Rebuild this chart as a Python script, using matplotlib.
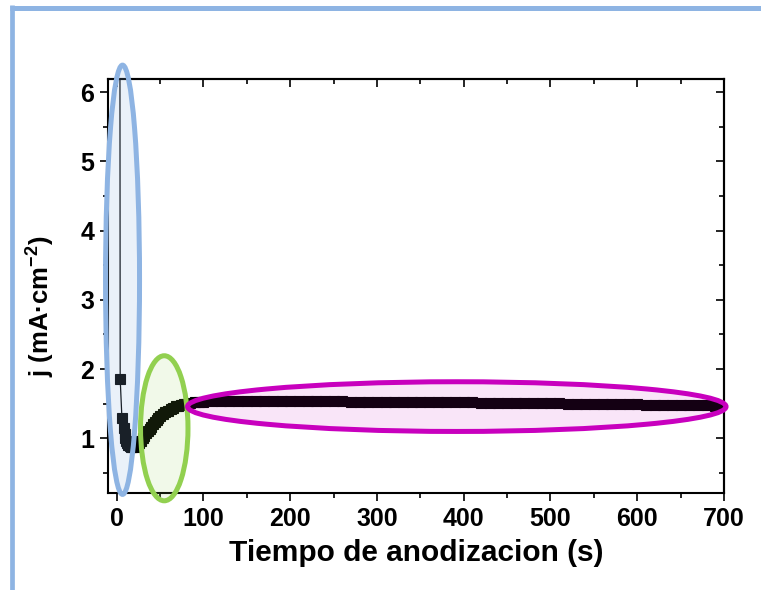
import matplotlib
matplotlib.use("Agg")
import matplotlib.pyplot as plt
from matplotlib.patches import Ellipse
from matplotlib.lines import Line2D
from matplotlib.ticker import MultipleLocator

plt.rcParams['font.family'] = ['Liberation Sans', 'DejaVu Sans']
plt.rcParams['font.weight'] = 'bold'
plt.rcParams['mathtext.fontset'] = 'custom'
plt.rcParams['mathtext.rm'] = 'Liberation Sans:bold'
plt.rcParams['mathtext.bf'] = 'Liberation Sans:bold'
plt.rcParams['mathtext.default'] = 'bf'

# ---- data ----
t_early = [3.5, 4, 6, 8, 9, 10, 11, 12, 13, 14, 15, 16, 18, 20, 22, 24, 26, 28,
           30, 32, 34, 36, 38, 40, 42, 44, 46, 48, 50, 53, 56, 59, 62, 65, 68,
           71, 74, 77, 80, 85, 90, 95]
j_early = [10.0, 1.86, 1.29, 1.15, 1.06, 1.00, 0.96, 0.93, 0.91, 0.90, 0.89, 0.88,
           0.88, 0.88, 0.89, 0.91, 0.93, 0.96, 1.00, 1.04, 1.08, 1.11, 1.14, 1.17,
           1.20, 1.23, 1.26, 1.29, 1.32, 1.35, 1.38, 1.40, 1.42, 1.44, 1.46, 1.47,
           1.48, 1.49, 1.50, 1.51, 1.52, 1.52]
t_late = [100, 110, 120, 130, 140, 150, 160, 170, 180, 190, 200, 210, 220, 230,
          240, 250, 260, 270, 280, 290, 300, 310, 320, 330, 340, 350, 360, 370,
          380, 390, 400, 410, 420, 430, 440, 450, 460, 470, 480, 490, 500, 510,
          520, 530, 540, 550, 560, 570, 580, 590, 600, 610, 620, 630, 640, 650,
          660, 670, 680, 690, 700]
j_late = [1.53, 1.535, 1.54, 1.54, 1.54, 1.54, 1.54, 1.54, 1.54, 1.54, 1.54, 1.54,
          1.54, 1.538, 1.536, 1.534, 1.532, 1.531, 1.53, 1.53, 1.53, 1.529, 1.528, 1.527,
          1.526, 1.525, 1.523, 1.521, 1.52, 1.52, 1.519, 1.518, 1.516, 1.514, 1.512, 1.51,
          1.509, 1.508, 1.507, 1.506, 1.505, 1.503, 1.501, 1.50, 1.499, 1.497, 1.495, 1.493,
          1.491, 1.49, 1.489, 1.487, 1.485, 1.483, 1.481, 1.48, 1.478, 1.476, 1.474, 1.472,
          1.47]
time_s = t_early + t_late
current = j_early + j_late

x_ticks = [0, 100, 200, 300, 400, 500, 600, 700]
y_ticks = [1, 2, 3, 4, 5, 6]

# highlight ellipses: (center_x, center_y, width, height, edge colour)
ell_cx = [6.7, 54.8, 392.0]
ell_cy = [3.29, 1.145, 1.458]
ell_w = [39.2, 54.7, 620.7]
ell_h = [6.2, 2.095, 0.718]
ell_colors = ['#8EB4E3', '#92D050', '#C800BE']
ell_alpha = [0.18, 0.12, 0.10]

fig = plt.figure(figsize=(7.61, 5.90), dpi=100)
ax = fig.add_axes([108.3 / 761, 1 - 493 / 590, (724 - 108.3) / 761, (493 - 79) / 590])

ax.plot(time_s, current, color='black', lw=0.9, marker='s', markersize=7,
        markerfacecolor='black', markeredgecolor='black', markeredgewidth=0.8, zorder=3)

for cx, cy, w, h, c, a in zip(ell_cx, ell_cy, ell_w, ell_h, ell_colors, ell_alpha):
    e_fill = Ellipse((cx, cy), w, h, facecolor=c, alpha=a, edgecolor='none',
                     clip_on=False, zorder=5)
    e_edge = Ellipse((cx, cy), w, h, facecolor='none', edgecolor=c, lw=3.6,
                     clip_on=False, zorder=6)
    ax.add_patch(e_fill)
    ax.add_patch(e_edge)

ax.set_xlim(-9.7, 700)
ax.set_ylim(0.21, 6.19)
ax.set_xticks(x_ticks)
ax.set_yticks(y_ticks)
ax.xaxis.set_minor_locator(MultipleLocator(50))
ax.yaxis.set_minor_locator(MultipleLocator(0.5))
ax.tick_params(which='major', direction='out', length=6, width=1.2, labelsize=18, pad=4)
ax.tick_params(which='minor', direction='out', length=3.5, width=1.2)
ax.tick_params(top=False, right=False)
for s in ax.spines.values():
    s.set_linewidth(1.5)

secx = ax.secondary_xaxis('top')
secx.set_xticks(x_ticks)
secx.xaxis.set_minor_locator(MultipleLocator(50))
secx.tick_params(which='major', direction='in', length=6, width=1.2, labeltop=False)
secx.tick_params(which='minor', direction='in', length=3.5, width=1.2)
secx.spines['top'].set_linewidth(1.5)

secy = ax.secondary_yaxis('right')
secy.set_yticks(y_ticks)
secy.yaxis.set_minor_locator(MultipleLocator(0.5))
secy.tick_params(which='major', direction='in', length=6, width=1.2, labelright=False)
secy.tick_params(which='minor', direction='in', length=3.5, width=1.2)
secy.spines['right'].set_linewidth(1.5)

ax.set_xlabel('Tiempo de anodizacion (s)', fontsize=21.5, fontweight='bold', labelpad=6)
ax.set_ylabel(r'j (mA·cm$^{-2}$)', fontsize=18.5, fontweight='bold')
ax.yaxis.set_label_coords(-0.084, 0.45)

# blue page border
fig.add_artist(Line2D([11.5 / 761, 11.5 / 761], [0, 1 - 5 / 590], color='#8EB4E3', lw=3.4,
                      transform=fig.transFigure, solid_capstyle='butt'))
fig.add_artist(Line2D([9.5 / 761, 1], [1 - 7.5 / 590, 1 - 7.5 / 590], color='#8EB4E3', lw=3.6,
                      transform=fig.transFigure, solid_capstyle='butt'))

fig.savefig('out.png', dpi=100)
